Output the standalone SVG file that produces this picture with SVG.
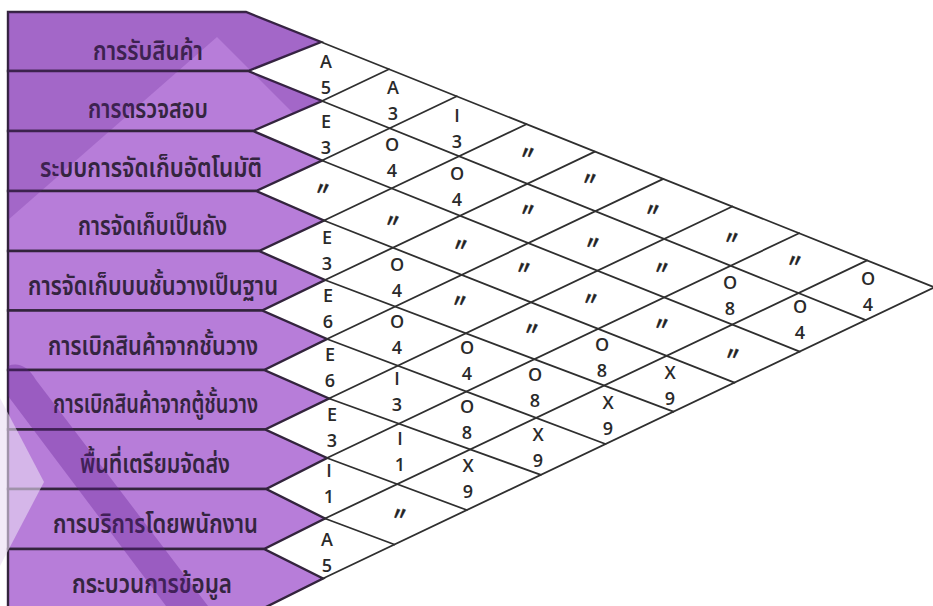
<svg xmlns="http://www.w3.org/2000/svg" width="933" height="606" viewBox="0 0 933 606">
  <style>
    .box { fill: #b77dd9; }
    .edge { fill: none; stroke: #33243d; stroke-width: 2.4; stroke-linejoin: miter; }
    .lbl { font-family: "Noto Sans Thai", "Noto Sans", "DejaVu Sans", sans-serif; font-size: 22px; font-weight: 600; fill: #34253f; }
    .rel { font-family: "Open Sans", "Liberation Sans", sans-serif; font-weight: 600; font-size: 18px; fill: #2a2a2a; text-anchor: middle; }
    .dit { font-family: "Noto Sans CJK JP", "Noto Sans", sans-serif; font-weight: 700; font-size: 18px; fill: #222; stroke: #222; stroke-width: 0.5; text-anchor: middle; }
    #grid line { stroke: #2f2f2f; stroke-width: 1.8; stroke-linecap: round; }
  </style>
  <defs>
    <!-- activity pentagons: rectangle body with a tip pointing into the matrix -->
    <polygon id="p1" points="8,12 246,12 321,42 248,71 8,71"/>
    <polygon id="p2" points="8,71 248,71 322,101 253,131 8,131"/>
    <polygon id="p3" points="8,131 253,131 322,160.5 256,191 8,191"/>
    <polygon id="p4" points="8,191 256,191 324,220.5 259,251 8,251"/>
    <polygon id="p5" points="8,251 259,251 325,280 262,310.5 8,310.5"/>
    <polygon id="p6" points="8,310.5 262,310.5 327,339 264,370 8,370"/>
    <polygon id="p7" points="8,370 264,370 329,398.5 265,429.5 8,429.5"/>
    <polygon id="p8" points="8,429.5 265,429.5 327,458 266,489 8,489"/>
    <polygon id="p9" points="8,489 266,489 325,518.5 264,549 8,549"/>
    <polygon id="p10" points="8,549 264,549 323,578.5 262,609 8,609"/>
    <clipPath id="boxes">
      <use href="#p1"/><use href="#p2"/><use href="#p3"/><use href="#p4"/><use href="#p5"/>
      <use href="#p6"/><use href="#p7"/><use href="#p8"/><use href="#p9"/><use href="#p10"/>
    </clipPath>
  </defs>

  <rect width="933" height="606" fill="#ffffff"/>

  <!-- activities (labels stretched 1.2x vertically about their baseline) -->
  <g id="activity-1"><use href="#p1" class="box"/><use href="#p1" class="edge"/>
    <text class="lbl" transform="matrix(1 0 0 1.2 0 -12)" x="93" y="60" textLength="110" lengthAdjust="spacingAndGlyphs">การรับสินค้า</text></g>
  <g id="activity-2"><use href="#p2" class="box"/><use href="#p2" class="edge"/>
    <text class="lbl" transform="matrix(1 0 0 1.2 0 -23.6)" x="88" y="118" textLength="120" lengthAdjust="spacingAndGlyphs">การตรวจสอบ</text></g>
  <g id="activity-3"><use href="#p3" class="box"/><use href="#p3" class="edge"/>
    <text class="lbl" transform="matrix(1 0 0 1.2 0 -35.4)" x="40" y="177" textLength="222" lengthAdjust="spacingAndGlyphs">ระบบการจัดเก็บอัตโนมัติ</text></g>
  <g id="activity-4"><use href="#p4" class="box"/><use href="#p4" class="edge"/>
    <text class="lbl" transform="matrix(1 0 0 1.2 0 -47)" x="78" y="235" textLength="149" lengthAdjust="spacingAndGlyphs">การจัดเก็บเป็นถัง</text></g>
  <g id="activity-5"><use href="#p5" class="box"/><use href="#p5" class="edge"/>
    <text class="lbl" transform="matrix(1 0 0 1.2 0 -59)" x="28" y="295" textLength="250" lengthAdjust="spacingAndGlyphs">การจัดเก็บบนชั้นวางเป็นฐาน</text></g>
  <g id="activity-6"><use href="#p6" class="box"/><use href="#p6" class="edge"/>
    <text class="lbl" transform="matrix(1 0 0 1.2 0 -71)" x="48" y="355" textLength="210" lengthAdjust="spacingAndGlyphs">การเบิกสินค้าจากชั้นวาง</text></g>
  <g id="activity-7"><use href="#p7" class="box"/><use href="#p7" class="edge"/>
    <text class="lbl" transform="matrix(1 0 0 1.2 0 -82.6)" x="53" y="413" textLength="205" lengthAdjust="spacingAndGlyphs">การเบิกสินค้าจากตู้ชั้นวาง</text></g>
  <g id="activity-8"><use href="#p8" class="box"/><use href="#p8" class="edge"/>
    <text class="lbl" transform="matrix(1 0 0 1.2 0 -94.6)" x="80" y="473" textLength="150" lengthAdjust="spacingAndGlyphs">พื้นที่เตรียมจัดส่ง</text></g>
  <g id="activity-9"><use href="#p9" class="box"/><use href="#p9" class="edge"/>
    <text class="lbl" transform="matrix(1 0 0 1.2 0 -106.6)" x="53" y="533" textLength="205" lengthAdjust="spacingAndGlyphs">การบริการโดยพนักงาน</text></g>
  <g id="activity-10"><use href="#p10" class="box"/><use href="#p10" class="edge"/>
    <text class="lbl" transform="matrix(1 0 0 1.2 0 -118.6)" x="72" y="593" textLength="160" lengthAdjust="spacingAndGlyphs">กระบวนการข้อมูล</text></g>

  <!-- translucent background artwork over the activity column -->
  <g id="backdrop" clip-path="url(#boxes)">
    <polygon points="0,0 340,0 340,160 217,37 0,227" fill="#5e1a8f" opacity="0.22"/>
    <path d="M8,366 Q24,360 36,380 L208,606 L166,606 L8,396 Z" fill="#5e1a8f" opacity="0.32"/>
  </g>
  <polygon points="0,398 44,482 0,566" fill="#eadcf3" opacity="0.6"/>

  <!-- relationship matrix lines -->
  <g id="grid">
    <line x1="321" y1="42" x2="934.5" y2="287.4"/>
    <line x1="322" y1="101" x2="865.8" y2="320.2"/>
    <line x1="322" y1="160.5" x2="799.7" y2="351.6"/>
    <line x1="324" y1="220.5" x2="734.5" y2="382.6"/>
    <line x1="325" y1="280" x2="673.4" y2="411.7"/>
    <line x1="327" y1="339" x2="605.5" y2="444"/>
    <line x1="329" y1="398.5" x2="540.9" y2="474.8"/>
    <line x1="327" y1="458" x2="466.8" y2="510"/>
    <line x1="325" y1="518.5" x2="394.4" y2="544.5"/>
    <line x1="322" y1="101" x2="388.9" y2="69.2"/>
    <line x1="322" y1="160.5" x2="456.8" y2="96.3"/>
    <line x1="324" y1="220.5" x2="526.4" y2="124.2"/>
    <line x1="325" y1="280" x2="594.9" y2="151.6"/>
    <line x1="327" y1="339" x2="663.3" y2="178.9"/>
    <line x1="329" y1="398.5" x2="732.3" y2="206.5"/>
    <line x1="327" y1="458" x2="799.1" y2="233.2"/>
    <line x1="325" y1="518.5" x2="867.1" y2="260.4"/>
    <line x1="323" y1="578.5" x2="934.5" y2="287.4"/>
  </g>

  <!-- relationship ratings: closeness letter above, reason code below -->
  <g id="ratings">
    <g id="r1-2"><text class="rel" x="326" y="68">A<tspan x="326" dy="26">5</tspan></text></g>
    <g id="r2-3"><text class="rel" x="326" y="128">E<tspan x="326" dy="26">3</tspan></text></g>
    <g id="r3-4"><text class="dit" x="323" y="195">〃</text></g>
    <g id="r4-5"><text class="rel" x="327" y="244">E<tspan x="327" dy="26">3</tspan></text></g>
    <g id="r5-6"><text class="rel" x="328" y="302">E<tspan x="328" dy="26">6</tspan></text></g>
    <g id="r6-7"><text class="rel" x="330" y="361">E<tspan x="330" dy="26">6</tspan></text></g>
    <g id="r7-8"><text class="rel" x="332" y="421">E<tspan x="332" dy="26">3</tspan></text></g>
    <g id="r8-9"><text class="rel" x="329" y="477">I<tspan x="329" dy="26">1</tspan></text></g>
    <g id="r9-10"><text class="rel" x="327" y="546">A<tspan x="327" dy="26">5</tspan></text></g>

    <g id="r1-3"><text class="rel" x="393" y="94">A<tspan x="393" dy="26">3</tspan></text></g>
    <g id="r2-4"><text class="rel" x="392" y="151">O<tspan x="392" dy="26">4</tspan></text></g>
    <g id="r3-5"><text class="dit" x="393" y="227">〃</text></g>
    <g id="r4-6"><text class="rel" x="397" y="271">O<tspan x="397" dy="26">4</tspan></text></g>
    <g id="r5-7"><text class="rel" x="397" y="328">O<tspan x="397" dy="26">4</tspan></text></g>
    <g id="r6-8"><text class="rel" x="397" y="385">I<tspan x="397" dy="26">3</tspan></text></g>
    <g id="r7-9"><text class="rel" x="400" y="445">I<tspan x="400" dy="26">1</tspan></text></g>
    <g id="r8-10"><text class="dit" x="400" y="520">〃</text></g>

    <g id="r1-4"><text class="rel" x="457" y="122">I<tspan x="457" dy="26">3</tspan></text></g>
    <g id="r2-5"><text class="rel" x="457" y="180">O<tspan x="457" dy="26">4</tspan></text></g>
    <g id="r3-6"><text class="dit" x="461" y="251">〃</text></g>
    <g id="r4-7"><text class="dit" x="460" y="307">〃</text></g>
    <g id="r5-8"><text class="rel" x="467" y="354">O<tspan x="467" dy="26">4</tspan></text></g>
    <g id="r6-9"><text class="rel" x="467" y="413">O<tspan x="467" dy="26">8</tspan></text></g>
    <g id="r7-10"><text class="rel" x="468" y="472">X<tspan x="468" dy="26">9</tspan></text></g>

    <g id="r1-5"><text class="dit" x="528" y="159">〃</text></g>
    <g id="r2-6"><text class="dit" x="528" y="216">〃</text></g>
    <g id="r3-7"><text class="dit" x="524" y="274">〃</text></g>
    <g id="r4-8"><text class="dit" x="532" y="335">〃</text></g>
    <g id="r5-9"><text class="rel" x="535" y="381">O<tspan x="535" dy="26">8</tspan></text></g>
    <g id="r6-10"><text class="rel" x="538" y="441">X<tspan x="538" dy="26">9</tspan></text></g>

    <g id="r1-6"><text class="dit" x="590" y="185">〃</text></g>
    <g id="r2-7"><text class="dit" x="593" y="249">〃</text></g>
    <g id="r3-8"><text class="dit" x="591" y="305">〃</text></g>
    <g id="r4-9"><text class="rel" x="602" y="351">O<tspan x="602" dy="26">8</tspan></text></g>
    <g id="r5-10"><text class="rel" x="608" y="409">X<tspan x="608" dy="26">9</tspan></text></g>

    <g id="r1-7"><text class="dit" x="653" y="216">〃</text></g>
    <g id="r2-8"><text class="dit" x="662" y="274">〃</text></g>
    <g id="r3-9"><text class="dit" x="662" y="330">〃</text></g>
    <g id="r4-10"><text class="rel" x="670" y="379">X<tspan x="670" dy="26">9</tspan></text></g>

    <g id="r1-8"><text class="dit" x="732" y="244">〃</text></g>
    <g id="r2-9"><text class="rel" x="730" y="289">O<tspan x="730" dy="26">8</tspan></text></g>
    <g id="r3-10"><text class="dit" x="733" y="360">〃</text></g>

    <g id="r1-9"><text class="dit" x="795" y="267">〃</text></g>
    <g id="r2-10"><text class="rel" x="800" y="313">O<tspan x="800" dy="26">4</tspan></text></g>

    <g id="r1-10"><text class="rel" x="868" y="285">O<tspan x="868" dy="26">4</tspan></text></g>
  </g>
</svg>
